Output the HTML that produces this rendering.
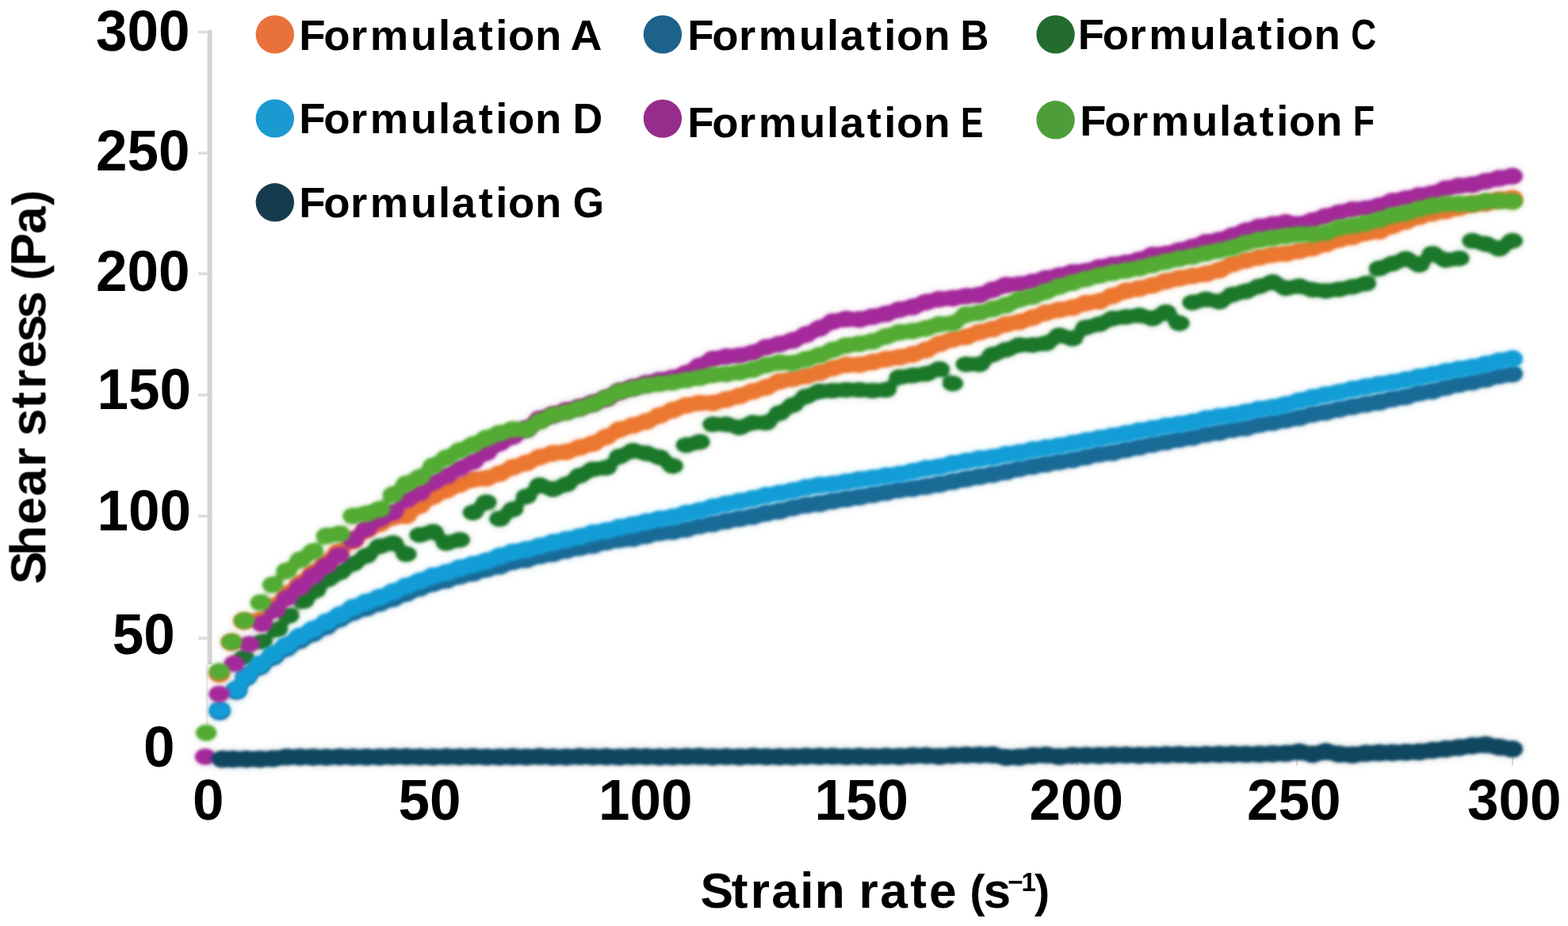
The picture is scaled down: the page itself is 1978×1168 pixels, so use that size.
<!DOCTYPE html>
<html lang="en">
<head>
<meta charset="utf-8">
<title>Shear stress vs strain rate</title>
<style>
html,body{margin:0;padding:0;background:#fff;}
body{width:1978px;height:1168px;overflow:hidden;}
svg{display:block;}
text{font-family:'Liberation Sans','DejaVu Sans',sans-serif;font-weight:700;fill:#000;}
.tick{font-size:72px;}
.leg{font-size:54.5px;}
.ttl{font-size:62.3px;}
</style>
</head>
<body>
<svg width="1978" height="1168" viewBox="0 0 1978 1168">
<rect width="1978" height="1168" fill="#ffffff"/>
<defs>
<filter id="soft" filterUnits="userSpaceOnUse" x="0" y="0" width="1978" height="1168" color-interpolation-filters="sRGB"><feGaussianBlur in="SourceGraphic" stdDeviation="5.0" result="h1"/><feColorMatrix in="h1" type="matrix" values="1 0 0 0 0  0 1 0 0 0  0 0 1 0 0  0 0 0 0.22 0" result="halo"/><feGaussianBlur in="SourceGraphic" stdDeviation="3.0" result="b1"/><feColorMatrix in="b1" type="matrix" values="1 0 0 0 0  0 1 0 0 0  0 0 1 0 0  0 0 0 2.6 -0.8" result="b2"/><feGaussianBlur in="b2" stdDeviation="1.7" result="core"/><feMerge><feMergeNode in="halo"/><feMergeNode in="core"/></feMerge></filter>
<filter id="soft3" filterUnits="userSpaceOnUse" x="0" y="0" width="1978" height="1168" color-interpolation-filters="sRGB"><feGaussianBlur stdDeviation="0.55"/></filter>
<filter id="soft2" filterUnits="userSpaceOnUse" x="0" y="0" width="1978" height="1168" color-interpolation-filters="sRGB"><feGaussianBlur stdDeviation="0.7"/></filter>
</defs>

<g fill="#d3d3d3" filter="url(#soft2)">
<rect x="261.6" y="38" width="6" height="800"/>
<rect x="260" y="838" width="2.5" height="76" fill="#ebebeb"/>
<rect x="250" y="38.6" width="13" height="3.6" fill="#dcdcdc"/>
<rect x="250" y="191.3" width="13" height="3.6" fill="#dcdcdc"/>
<rect x="250" y="343.4" width="13" height="3.6" fill="#dcdcdc"/>
<rect x="250" y="496.5" width="13" height="3.6" fill="#dcdcdc"/>
<rect x="250" y="649.2" width="13" height="3.6" fill="#dcdcdc"/>
<rect x="250" y="803.3" width="13" height="3.6" fill="#dcdcdc"/>
</g>
<rect x="1083" y="956" width="2" height="10" fill="#dcdce0" filter="url(#soft2)"/>
<rect x="1358" y="956" width="2" height="10" fill="#dcdce0" filter="url(#soft2)"/>
<rect x="1635" y="956" width="2" height="10" fill="#dcdce0" filter="url(#soft2)"/>
<rect x="1907" y="956" width="2" height="10" fill="#dcdce0" filter="url(#soft2)"/>
<g id="curves">
<g fill="#EC7730" filter="url(#soft)">
<ellipse cx="276.7" cy="850.5" rx="13.6" ry="10.6"/>
<ellipse cx="292.1" cy="810.0" rx="13.6" ry="10.6"/>
<ellipse cx="308.0" cy="783.3" rx="13.6" ry="10.6"/>
<ellipse cx="330.0" cy="781.0" rx="13.6" ry="10.6"/>
<ellipse cx="346.5" cy="764.0" rx="13.6" ry="10.6"/>
<ellipse cx="362.3" cy="748.5" rx="13.6" ry="10.6"/>
<ellipse cx="378.8" cy="735.0" rx="13.6" ry="10.6"/>
<ellipse cx="395.0" cy="721.5" rx="13.6" ry="10.6"/>
<ellipse cx="411.1" cy="708.5" rx="13.6" ry="10.6"/>
<ellipse cx="427.3" cy="695.5" rx="13.6" ry="10.6"/>
<ellipse cx="445.4" cy="682.0" rx="13.6" ry="10.6"/>
<ellipse cx="462.2" cy="668.4" rx="13.6" ry="10.6"/>
<ellipse cx="479.0" cy="660.7" rx="13.6" ry="10.6"/>
<ellipse cx="495.8" cy="652.6" rx="13.6" ry="10.6"/>
<ellipse cx="512.6" cy="650.6" rx="13.6" ry="10.6"/>
<ellipse cx="529.5" cy="637.8" rx="13.6" ry="10.6"/>
<ellipse cx="546.3" cy="626.2" rx="13.6" ry="10.6"/>
<ellipse cx="563.1" cy="618.4" rx="13.6" ry="10.6"/>
<ellipse cx="579.9" cy="611.1" rx="13.6" ry="10.6"/>
<ellipse cx="596.7" cy="604.7" rx="13.6" ry="10.6"/>
<ellipse cx="613.5" cy="603.3" rx="13.6" ry="10.6"/>
<ellipse cx="630.3" cy="597.3" rx="13.6" ry="10.6"/>
<ellipse cx="647.1" cy="589.3" rx="13.6" ry="10.6"/>
<ellipse cx="663.9" cy="583.9" rx="13.6" ry="10.6"/>
<ellipse cx="680.8" cy="576.6" rx="13.6" ry="10.6"/>
<ellipse cx="697.6" cy="571.7" rx="13.6" ry="10.6"/>
<ellipse cx="714.4" cy="570.1" rx="13.6" ry="10.6"/>
<ellipse cx="731.2" cy="564.4" rx="13.6" ry="10.6"/>
<ellipse cx="748.0" cy="559.5" rx="13.6" ry="10.6"/>
<ellipse cx="764.8" cy="551.0" rx="13.6" ry="10.6"/>
<ellipse cx="781.6" cy="541.8" rx="13.6" ry="10.6"/>
<ellipse cx="798.4" cy="536.7" rx="13.6" ry="10.6"/>
<ellipse cx="815.2" cy="531.7" rx="13.6" ry="10.6"/>
<ellipse cx="832.0" cy="524.0" rx="13.6" ry="10.6"/>
<ellipse cx="848.8" cy="517.2" rx="13.6" ry="10.6"/>
<ellipse cx="865.7" cy="511.3" rx="13.6" ry="10.6"/>
<ellipse cx="882.5" cy="508.3" rx="13.6" ry="10.6"/>
<ellipse cx="899.3" cy="508.3" rx="13.6" ry="10.6"/>
<ellipse cx="916.1" cy="503.9" rx="13.6" ry="10.6"/>
<ellipse cx="932.9" cy="499.4" rx="13.6" ry="10.6"/>
<ellipse cx="949.7" cy="493.5" rx="13.6" ry="10.6"/>
<ellipse cx="966.5" cy="488.6" rx="13.6" ry="10.6"/>
<ellipse cx="983.3" cy="481.0" rx="13.6" ry="10.6"/>
<ellipse cx="1000.1" cy="477.8" rx="13.6" ry="10.6"/>
<ellipse cx="1016.9" cy="474.2" rx="13.6" ry="10.6"/>
<ellipse cx="1033.8" cy="469.9" rx="13.6" ry="10.6"/>
<ellipse cx="1050.6" cy="464.3" rx="13.6" ry="10.6"/>
<ellipse cx="1067.4" cy="460.2" rx="13.6" ry="10.6"/>
<ellipse cx="1084.2" cy="460.0" rx="13.6" ry="10.6"/>
<ellipse cx="1101.0" cy="456.7" rx="13.6" ry="10.6"/>
<ellipse cx="1117.8" cy="452.9" rx="13.6" ry="10.6"/>
<ellipse cx="1134.6" cy="450.5" rx="13.6" ry="10.6"/>
<ellipse cx="1151.4" cy="446.9" rx="13.6" ry="10.6"/>
<ellipse cx="1168.2" cy="441.4" rx="13.6" ry="10.6"/>
<ellipse cx="1185.0" cy="433.7" rx="13.6" ry="10.6"/>
<ellipse cx="1201.9" cy="428.1" rx="13.6" ry="10.6"/>
<ellipse cx="1218.7" cy="424.8" rx="13.6" ry="10.6"/>
<ellipse cx="1235.5" cy="418.9" rx="13.6" ry="10.6"/>
<ellipse cx="1252.3" cy="415.0" rx="13.6" ry="10.6"/>
<ellipse cx="1269.1" cy="409.0" rx="13.6" ry="10.6"/>
<ellipse cx="1285.9" cy="406.1" rx="13.6" ry="10.6"/>
<ellipse cx="1302.7" cy="400.6" rx="13.6" ry="10.6"/>
<ellipse cx="1319.5" cy="394.4" rx="13.6" ry="10.6"/>
<ellipse cx="1336.3" cy="390.8" rx="13.6" ry="10.6"/>
<ellipse cx="1353.1" cy="387.9" rx="13.6" ry="10.6"/>
<ellipse cx="1370.0" cy="382.3" rx="13.6" ry="10.6"/>
<ellipse cx="1386.8" cy="380.0" rx="13.6" ry="10.6"/>
<ellipse cx="1403.6" cy="373.1" rx="13.6" ry="10.6"/>
<ellipse cx="1420.4" cy="366.9" rx="13.6" ry="10.6"/>
<ellipse cx="1437.2" cy="363.9" rx="13.6" ry="10.6"/>
<ellipse cx="1454.0" cy="359.8" rx="13.6" ry="10.6"/>
<ellipse cx="1470.8" cy="354.7" rx="13.6" ry="10.6"/>
<ellipse cx="1487.6" cy="350.9" rx="13.6" ry="10.6"/>
<ellipse cx="1504.4" cy="348.0" rx="13.6" ry="10.6"/>
<ellipse cx="1521.2" cy="345.4" rx="13.6" ry="10.6"/>
<ellipse cx="1538.1" cy="340.7" rx="13.6" ry="10.6"/>
<ellipse cx="1554.9" cy="332.9" rx="13.6" ry="10.6"/>
<ellipse cx="1571.7" cy="328.4" rx="13.6" ry="10.6"/>
<ellipse cx="1588.5" cy="324.7" rx="13.6" ry="10.6"/>
<ellipse cx="1605.3" cy="321.2" rx="13.6" ry="10.6"/>
<ellipse cx="1622.1" cy="319.8" rx="13.6" ry="10.6"/>
<ellipse cx="1638.9" cy="316.4" rx="13.6" ry="10.6"/>
<ellipse cx="1655.7" cy="313.1" rx="13.6" ry="10.6"/>
<ellipse cx="1672.5" cy="307.8" rx="13.6" ry="10.6"/>
<ellipse cx="1689.3" cy="302.1" rx="13.6" ry="10.6"/>
<ellipse cx="1706.2" cy="298.7" rx="13.6" ry="10.6"/>
<ellipse cx="1723.0" cy="293.8" rx="13.6" ry="10.6"/>
<ellipse cx="1739.8" cy="291.8" rx="13.6" ry="10.6"/>
<ellipse cx="1756.6" cy="284.8" rx="13.6" ry="10.6"/>
<ellipse cx="1773.4" cy="279.3" rx="13.6" ry="10.6"/>
<ellipse cx="1790.2" cy="273.4" rx="13.6" ry="10.6"/>
<ellipse cx="1807.0" cy="269.0" rx="13.6" ry="10.6"/>
<ellipse cx="1823.8" cy="266.1" rx="13.6" ry="10.6"/>
<ellipse cx="1840.6" cy="262.0" rx="13.6" ry="10.6"/>
<ellipse cx="1857.4" cy="257.7" rx="13.6" ry="10.6"/>
<ellipse cx="1874.3" cy="256.3" rx="13.6" ry="10.6"/>
<ellipse cx="1891.1" cy="252.0" rx="13.6" ry="10.6"/>
<ellipse cx="1907.9" cy="250.2" rx="13.6" ry="10.6"/>
</g>
<g fill="#1A6A96" filter="url(#soft)">
<ellipse cx="277.2" cy="897.2" rx="13.6" ry="11.0"/>
<ellipse cx="298.3" cy="871.5" rx="13.6" ry="11.0"/>
<ellipse cx="310.9" cy="853.9" rx="13.6" ry="11.0"/>
<ellipse cx="327.7" cy="840.8" rx="13.6" ry="11.0"/>
<ellipse cx="344.6" cy="828.5" rx="13.6" ry="11.0"/>
<ellipse cx="361.4" cy="817.5" rx="13.6" ry="11.0"/>
<ellipse cx="378.2" cy="807.6" rx="13.6" ry="11.0"/>
<ellipse cx="395.0" cy="799.0" rx="13.6" ry="11.0"/>
<ellipse cx="411.8" cy="790.1" rx="13.6" ry="11.0"/>
<ellipse cx="428.6" cy="780.4" rx="13.6" ry="11.0"/>
<ellipse cx="445.4" cy="772.3" rx="13.6" ry="11.0"/>
<ellipse cx="462.2" cy="766.8" rx="13.6" ry="11.0"/>
<ellipse cx="479.0" cy="760.6" rx="13.6" ry="11.0"/>
<ellipse cx="495.8" cy="755.0" rx="13.6" ry="11.0"/>
<ellipse cx="512.6" cy="748.3" rx="13.6" ry="11.0"/>
<ellipse cx="529.5" cy="741.6" rx="13.6" ry="11.0"/>
<ellipse cx="546.3" cy="735.8" rx="13.6" ry="11.0"/>
<ellipse cx="563.1" cy="731.6" rx="13.6" ry="11.0"/>
<ellipse cx="579.9" cy="726.5" rx="13.6" ry="11.0"/>
<ellipse cx="596.7" cy="722.7" rx="13.6" ry="11.0"/>
<ellipse cx="613.5" cy="717.6" rx="13.6" ry="11.0"/>
<ellipse cx="630.3" cy="714.0" rx="13.6" ry="11.0"/>
<ellipse cx="647.1" cy="708.2" rx="13.6" ry="11.0"/>
<ellipse cx="663.9" cy="705.7" rx="13.6" ry="11.0"/>
<ellipse cx="680.8" cy="700.9" rx="13.6" ry="11.0"/>
<ellipse cx="697.6" cy="698.2" rx="13.6" ry="11.0"/>
<ellipse cx="714.4" cy="694.0" rx="13.6" ry="11.0"/>
<ellipse cx="731.2" cy="690.4" rx="13.6" ry="11.0"/>
<ellipse cx="748.0" cy="687.7" rx="13.6" ry="11.0"/>
<ellipse cx="764.8" cy="683.4" rx="13.6" ry="11.0"/>
<ellipse cx="781.6" cy="680.5" rx="13.6" ry="11.0"/>
<ellipse cx="798.4" cy="679.0" rx="13.6" ry="11.0"/>
<ellipse cx="815.2" cy="675.4" rx="13.6" ry="11.0"/>
<ellipse cx="832.0" cy="671.7" rx="13.6" ry="11.0"/>
<ellipse cx="848.8" cy="670.2" rx="13.6" ry="11.0"/>
<ellipse cx="865.7" cy="667.2" rx="13.6" ry="11.0"/>
<ellipse cx="882.5" cy="662.9" rx="13.6" ry="11.0"/>
<ellipse cx="899.3" cy="660.4" rx="13.6" ry="11.0"/>
<ellipse cx="916.1" cy="657.0" rx="13.6" ry="11.0"/>
<ellipse cx="932.9" cy="654.0" rx="13.6" ry="11.0"/>
<ellipse cx="949.7" cy="651.2" rx="13.6" ry="11.0"/>
<ellipse cx="966.5" cy="647.1" rx="13.6" ry="11.0"/>
<ellipse cx="983.3" cy="644.5" rx="13.6" ry="11.0"/>
<ellipse cx="1000.1" cy="640.2" rx="13.6" ry="11.0"/>
<ellipse cx="1016.9" cy="637.0" rx="13.6" ry="11.0"/>
<ellipse cx="1033.8" cy="635.1" rx="13.6" ry="11.0"/>
<ellipse cx="1050.6" cy="631.8" rx="13.6" ry="11.0"/>
<ellipse cx="1067.4" cy="629.1" rx="13.6" ry="11.0"/>
<ellipse cx="1084.2" cy="626.7" rx="13.6" ry="11.0"/>
<ellipse cx="1101.0" cy="623.8" rx="13.6" ry="11.0"/>
<ellipse cx="1117.8" cy="620.9" rx="13.6" ry="11.0"/>
<ellipse cx="1134.6" cy="617.6" rx="13.6" ry="11.0"/>
<ellipse cx="1151.4" cy="615.9" rx="13.6" ry="11.0"/>
<ellipse cx="1168.2" cy="613.4" rx="13.6" ry="11.0"/>
<ellipse cx="1185.0" cy="610.6" rx="13.6" ry="11.0"/>
<ellipse cx="1201.9" cy="607.3" rx="13.6" ry="11.0"/>
<ellipse cx="1218.7" cy="604.0" rx="13.6" ry="11.0"/>
<ellipse cx="1235.5" cy="600.9" rx="13.6" ry="11.0"/>
<ellipse cx="1252.3" cy="598.2" rx="13.6" ry="11.0"/>
<ellipse cx="1269.1" cy="595.0" rx="13.6" ry="11.0"/>
<ellipse cx="1285.9" cy="590.9" rx="13.6" ry="11.0"/>
<ellipse cx="1302.7" cy="588.0" rx="13.6" ry="11.0"/>
<ellipse cx="1319.5" cy="585.1" rx="13.6" ry="11.0"/>
<ellipse cx="1336.3" cy="582.3" rx="13.6" ry="11.0"/>
<ellipse cx="1353.1" cy="579.8" rx="13.6" ry="11.0"/>
<ellipse cx="1370.0" cy="576.3" rx="13.6" ry="11.0"/>
<ellipse cx="1386.8" cy="572.5" rx="13.6" ry="11.0"/>
<ellipse cx="1403.6" cy="570.7" rx="13.6" ry="11.0"/>
<ellipse cx="1420.4" cy="566.9" rx="13.6" ry="11.0"/>
<ellipse cx="1437.2" cy="563.8" rx="13.6" ry="11.0"/>
<ellipse cx="1454.0" cy="560.2" rx="13.6" ry="11.0"/>
<ellipse cx="1470.8" cy="557.3" rx="13.6" ry="11.0"/>
<ellipse cx="1487.6" cy="554.0" rx="13.6" ry="11.0"/>
<ellipse cx="1504.4" cy="551.5" rx="13.6" ry="11.0"/>
<ellipse cx="1521.2" cy="547.4" rx="13.6" ry="11.0"/>
<ellipse cx="1538.1" cy="545.1" rx="13.6" ry="11.0"/>
<ellipse cx="1554.9" cy="541.5" rx="13.6" ry="11.0"/>
<ellipse cx="1571.7" cy="539.4" rx="13.6" ry="11.0"/>
<ellipse cx="1588.5" cy="535.3" rx="13.6" ry="11.0"/>
<ellipse cx="1605.3" cy="532.6" rx="13.6" ry="11.0"/>
<ellipse cx="1622.1" cy="529.4" rx="13.6" ry="11.0"/>
<ellipse cx="1638.9" cy="526.6" rx="13.6" ry="11.0"/>
<ellipse cx="1655.7" cy="522.3" rx="13.6" ry="11.0"/>
<ellipse cx="1672.5" cy="519.7" rx="13.6" ry="11.0"/>
<ellipse cx="1689.3" cy="516.0" rx="13.6" ry="11.0"/>
<ellipse cx="1706.2" cy="512.7" rx="13.6" ry="11.0"/>
<ellipse cx="1723.0" cy="509.7" rx="13.6" ry="11.0"/>
<ellipse cx="1739.8" cy="507.1" rx="13.6" ry="11.0"/>
<ellipse cx="1756.6" cy="503.0" rx="13.6" ry="11.0"/>
<ellipse cx="1773.4" cy="500.3" rx="13.6" ry="11.0"/>
<ellipse cx="1790.2" cy="495.5" rx="13.6" ry="11.0"/>
<ellipse cx="1807.0" cy="493.0" rx="13.6" ry="11.0"/>
<ellipse cx="1823.8" cy="488.4" rx="13.6" ry="11.0"/>
<ellipse cx="1840.6" cy="484.4" rx="13.6" ry="11.0"/>
<ellipse cx="1857.4" cy="481.6" rx="13.6" ry="11.0"/>
<ellipse cx="1874.3" cy="478.1" rx="13.6" ry="11.0"/>
<ellipse cx="1891.1" cy="473.7" rx="13.6" ry="11.0"/>
<ellipse cx="1907.9" cy="471.6" rx="13.6" ry="11.0"/>
</g>
<g fill="#1B772A" filter="url(#soft)">
<ellipse cx="308.1" cy="829.0" rx="13.6" ry="10.0"/>
<ellipse cx="330.6" cy="809.5" rx="13.6" ry="10.0"/>
<ellipse cx="350.1" cy="794.1" rx="13.6" ry="10.0"/>
<ellipse cx="364.5" cy="776.6" rx="13.6" ry="10.0"/>
<ellipse cx="383.0" cy="758.2" rx="13.6" ry="10.0"/>
<ellipse cx="398.0" cy="745.0" rx="13.6" ry="10.0"/>
<ellipse cx="413.9" cy="730.4" rx="13.6" ry="10.0"/>
<ellipse cx="429.0" cy="722.0" rx="13.6" ry="10.0"/>
<ellipse cx="445.4" cy="711.2" rx="13.6" ry="10.0"/>
<ellipse cx="462.2" cy="701.1" rx="13.6" ry="10.0"/>
<ellipse cx="479.0" cy="689.0" rx="13.6" ry="10.0"/>
<ellipse cx="495.8" cy="684.9" rx="13.6" ry="10.0"/>
<ellipse cx="512.6" cy="699.1" rx="13.6" ry="10.0"/>
<ellipse cx="529.5" cy="674.8" rx="13.6" ry="10.0"/>
<ellipse cx="546.3" cy="670.8" rx="13.6" ry="10.0"/>
<ellipse cx="563.1" cy="684.9" rx="13.6" ry="10.0"/>
<ellipse cx="579.9" cy="680.9" rx="13.6" ry="10.0"/>
<ellipse cx="596.7" cy="646.5" rx="13.6" ry="10.0"/>
<ellipse cx="613.5" cy="633.4" rx="13.6" ry="10.0"/>
<ellipse cx="630.3" cy="654.6" rx="13.6" ry="10.0"/>
<ellipse cx="647.1" cy="642.5" rx="13.6" ry="10.0"/>
<ellipse cx="663.9" cy="626.3" rx="13.6" ry="10.0"/>
<ellipse cx="680.8" cy="612.1" rx="13.6" ry="10.0"/>
<ellipse cx="697.6" cy="617.2" rx="13.6" ry="10.0"/>
<ellipse cx="714.4" cy="611.1" rx="13.6" ry="10.0"/>
<ellipse cx="731.2" cy="600.0" rx="13.6" ry="10.0"/>
<ellipse cx="748.0" cy="591.9" rx="13.6" ry="10.0"/>
<ellipse cx="764.8" cy="589.9" rx="13.6" ry="10.0"/>
<ellipse cx="781.6" cy="575.7" rx="13.6" ry="10.0"/>
<ellipse cx="798.4" cy="568.6" rx="13.6" ry="10.0"/>
<ellipse cx="815.2" cy="571.7" rx="13.6" ry="10.0"/>
<ellipse cx="832.0" cy="576.7" rx="13.6" ry="10.0"/>
<ellipse cx="848.8" cy="587.8" rx="13.6" ry="10.0"/>
<ellipse cx="865.7" cy="561.4" rx="13.6" ry="10.0"/>
<ellipse cx="882.5" cy="557.5" rx="13.6" ry="10.0"/>
<ellipse cx="899.3" cy="535.3" rx="13.6" ry="10.0"/>
<ellipse cx="916.1" cy="535.3" rx="13.6" ry="10.0"/>
<ellipse cx="932.9" cy="539.3" rx="13.6" ry="10.0"/>
<ellipse cx="949.7" cy="533.2" rx="13.6" ry="10.0"/>
<ellipse cx="966.5" cy="533.2" rx="13.6" ry="10.0"/>
<ellipse cx="983.3" cy="521.1" rx="13.6" ry="10.0"/>
<ellipse cx="1000.1" cy="511.0" rx="13.6" ry="10.0"/>
<ellipse cx="1016.9" cy="499.9" rx="13.6" ry="10.0"/>
<ellipse cx="1033.8" cy="493.8" rx="13.6" ry="10.0"/>
<ellipse cx="1050.6" cy="492.8" rx="13.6" ry="10.0"/>
<ellipse cx="1067.4" cy="491.8" rx="13.6" ry="10.0"/>
<ellipse cx="1084.2" cy="491.8" rx="13.6" ry="10.0"/>
<ellipse cx="1101.0" cy="492.8" rx="13.6" ry="10.0"/>
<ellipse cx="1117.8" cy="491.8" rx="13.6" ry="10.0"/>
<ellipse cx="1134.6" cy="475.8" rx="13.6" ry="10.0"/>
<ellipse cx="1151.4" cy="473.6" rx="13.6" ry="10.0"/>
<ellipse cx="1168.2" cy="471.6" rx="13.6" ry="10.0"/>
<ellipse cx="1185.0" cy="465.5" rx="13.6" ry="10.0"/>
<ellipse cx="1201.9" cy="483.7" rx="13.6" ry="10.0"/>
<ellipse cx="1218.7" cy="459.4" rx="13.6" ry="10.0"/>
<ellipse cx="1235.5" cy="459.4" rx="13.6" ry="10.0"/>
<ellipse cx="1252.3" cy="447.3" rx="13.6" ry="10.0"/>
<ellipse cx="1269.1" cy="441.2" rx="13.6" ry="10.0"/>
<ellipse cx="1285.9" cy="435.2" rx="13.6" ry="10.0"/>
<ellipse cx="1302.7" cy="435.2" rx="13.6" ry="10.0"/>
<ellipse cx="1319.5" cy="433.1" rx="13.6" ry="10.0"/>
<ellipse cx="1336.3" cy="423.0" rx="13.6" ry="10.0"/>
<ellipse cx="1353.1" cy="427.1" rx="13.6" ry="10.0"/>
<ellipse cx="1370.0" cy="412.9" rx="13.6" ry="10.0"/>
<ellipse cx="1386.8" cy="408.9" rx="13.6" ry="10.0"/>
<ellipse cx="1403.6" cy="401.8" rx="13.6" ry="10.0"/>
<ellipse cx="1420.4" cy="399.8" rx="13.6" ry="10.0"/>
<ellipse cx="1437.2" cy="397.7" rx="13.6" ry="10.0"/>
<ellipse cx="1454.0" cy="401.8" rx="13.6" ry="10.0"/>
<ellipse cx="1470.8" cy="393.7" rx="13.6" ry="10.0"/>
<ellipse cx="1487.6" cy="407.8" rx="13.6" ry="10.0"/>
<ellipse cx="1504.4" cy="381.6" rx="13.6" ry="10.0"/>
<ellipse cx="1521.2" cy="377.5" rx="13.6" ry="10.0"/>
<ellipse cx="1538.1" cy="380.5" rx="13.6" ry="10.0"/>
<ellipse cx="1554.9" cy="371.4" rx="13.6" ry="10.0"/>
<ellipse cx="1571.7" cy="367.4" rx="13.6" ry="10.0"/>
<ellipse cx="1588.5" cy="361.3" rx="13.6" ry="10.0"/>
<ellipse cx="1605.3" cy="355.8" rx="13.6" ry="10.0"/>
<ellipse cx="1622.1" cy="363.4" rx="13.6" ry="10.0"/>
<ellipse cx="1638.9" cy="361.0" rx="13.6" ry="10.0"/>
<ellipse cx="1655.7" cy="365.4" rx="13.6" ry="10.0"/>
<ellipse cx="1672.5" cy="367.0" rx="13.6" ry="10.0"/>
<ellipse cx="1689.3" cy="365.0" rx="13.6" ry="10.0"/>
<ellipse cx="1706.2" cy="361.8" rx="13.6" ry="10.0"/>
<ellipse cx="1723.0" cy="357.8" rx="13.6" ry="10.0"/>
<ellipse cx="1739.8" cy="338.6" rx="13.6" ry="10.0"/>
<ellipse cx="1756.6" cy="332.5" rx="13.6" ry="10.0"/>
<ellipse cx="1773.4" cy="326.5" rx="13.6" ry="10.0"/>
<ellipse cx="1790.2" cy="334.0" rx="13.6" ry="10.0"/>
<ellipse cx="1807.0" cy="319.9" rx="13.6" ry="10.0"/>
<ellipse cx="1823.8" cy="328.0" rx="13.6" ry="10.0"/>
<ellipse cx="1840.6" cy="326.0" rx="13.6" ry="10.0"/>
<ellipse cx="1857.4" cy="303.7" rx="13.6" ry="10.0"/>
<ellipse cx="1874.3" cy="307.7" rx="13.6" ry="10.0"/>
<ellipse cx="1891.1" cy="313.8" rx="13.6" ry="10.0"/>
<ellipse cx="1907.9" cy="303.7" rx="13.6" ry="10.0"/>
</g>
<g fill="#139DD6" filter="url(#soft)">
<ellipse cx="277.2" cy="895.6" rx="13.6" ry="11.0"/>
<ellipse cx="298.3" cy="869.7" rx="13.6" ry="11.0"/>
<ellipse cx="310.9" cy="851.6" rx="13.6" ry="11.0"/>
<ellipse cx="327.7" cy="838.0" rx="13.6" ry="11.0"/>
<ellipse cx="344.6" cy="825.3" rx="13.6" ry="11.0"/>
<ellipse cx="361.4" cy="813.8" rx="13.6" ry="11.0"/>
<ellipse cx="378.2" cy="802.7" rx="13.6" ry="11.0"/>
<ellipse cx="395.0" cy="793.8" rx="13.6" ry="11.0"/>
<ellipse cx="411.8" cy="784.5" rx="13.6" ry="11.0"/>
<ellipse cx="428.6" cy="775.8" rx="13.6" ry="11.0"/>
<ellipse cx="445.4" cy="766.3" rx="13.6" ry="11.0"/>
<ellipse cx="462.2" cy="759.5" rx="13.6" ry="11.0"/>
<ellipse cx="479.0" cy="753.4" rx="13.6" ry="11.0"/>
<ellipse cx="495.8" cy="746.5" rx="13.6" ry="11.0"/>
<ellipse cx="512.6" cy="739.2" rx="13.6" ry="11.0"/>
<ellipse cx="529.5" cy="732.9" rx="13.6" ry="11.0"/>
<ellipse cx="546.3" cy="726.4" rx="13.6" ry="11.0"/>
<ellipse cx="563.1" cy="722.2" rx="13.6" ry="11.0"/>
<ellipse cx="579.9" cy="716.6" rx="13.6" ry="11.0"/>
<ellipse cx="596.7" cy="712.0" rx="13.6" ry="11.0"/>
<ellipse cx="613.5" cy="707.7" rx="13.6" ry="11.0"/>
<ellipse cx="630.3" cy="701.6" rx="13.6" ry="11.0"/>
<ellipse cx="647.1" cy="696.4" rx="13.6" ry="11.0"/>
<ellipse cx="663.9" cy="693.2" rx="13.6" ry="11.0"/>
<ellipse cx="680.8" cy="688.9" rx="13.6" ry="11.0"/>
<ellipse cx="697.6" cy="684.2" rx="13.6" ry="11.0"/>
<ellipse cx="714.4" cy="680.7" rx="13.6" ry="11.0"/>
<ellipse cx="731.2" cy="676.9" rx="13.6" ry="11.0"/>
<ellipse cx="748.0" cy="672.3" rx="13.6" ry="11.0"/>
<ellipse cx="764.8" cy="669.5" rx="13.6" ry="11.0"/>
<ellipse cx="781.6" cy="665.2" rx="13.6" ry="11.0"/>
<ellipse cx="798.4" cy="662.0" rx="13.6" ry="11.0"/>
<ellipse cx="815.2" cy="658.2" rx="13.6" ry="11.0"/>
<ellipse cx="832.0" cy="654.8" rx="13.6" ry="11.0"/>
<ellipse cx="848.8" cy="652.2" rx="13.6" ry="11.0"/>
<ellipse cx="865.7" cy="647.4" rx="13.6" ry="11.0"/>
<ellipse cx="882.5" cy="644.3" rx="13.6" ry="11.0"/>
<ellipse cx="899.3" cy="639.5" rx="13.6" ry="11.0"/>
<ellipse cx="916.1" cy="635.8" rx="13.6" ry="11.0"/>
<ellipse cx="932.9" cy="632.6" rx="13.6" ry="11.0"/>
<ellipse cx="949.7" cy="629.0" rx="13.6" ry="11.0"/>
<ellipse cx="966.5" cy="624.9" rx="13.6" ry="11.0"/>
<ellipse cx="983.3" cy="622.2" rx="13.6" ry="11.0"/>
<ellipse cx="1000.1" cy="618.9" rx="13.6" ry="11.0"/>
<ellipse cx="1016.9" cy="614.9" rx="13.6" ry="11.0"/>
<ellipse cx="1033.8" cy="612.1" rx="13.6" ry="11.0"/>
<ellipse cx="1050.6" cy="610.8" rx="13.6" ry="11.0"/>
<ellipse cx="1067.4" cy="607.9" rx="13.6" ry="11.0"/>
<ellipse cx="1084.2" cy="605.1" rx="13.6" ry="11.0"/>
<ellipse cx="1101.0" cy="603.0" rx="13.6" ry="11.0"/>
<ellipse cx="1117.8" cy="600.3" rx="13.6" ry="11.0"/>
<ellipse cx="1134.6" cy="598.3" rx="13.6" ry="11.0"/>
<ellipse cx="1151.4" cy="594.7" rx="13.6" ry="11.0"/>
<ellipse cx="1168.2" cy="591.0" rx="13.6" ry="11.0"/>
<ellipse cx="1185.0" cy="588.9" rx="13.6" ry="11.0"/>
<ellipse cx="1201.9" cy="584.8" rx="13.6" ry="11.0"/>
<ellipse cx="1218.7" cy="581.9" rx="13.6" ry="11.0"/>
<ellipse cx="1235.5" cy="578.8" rx="13.6" ry="11.0"/>
<ellipse cx="1252.3" cy="577.0" rx="13.6" ry="11.0"/>
<ellipse cx="1269.1" cy="573.3" rx="13.6" ry="11.0"/>
<ellipse cx="1285.9" cy="571.1" rx="13.6" ry="11.0"/>
<ellipse cx="1302.7" cy="567.6" rx="13.6" ry="11.0"/>
<ellipse cx="1319.5" cy="565.1" rx="13.6" ry="11.0"/>
<ellipse cx="1336.3" cy="562.4" rx="13.6" ry="11.0"/>
<ellipse cx="1353.1" cy="559.2" rx="13.6" ry="11.0"/>
<ellipse cx="1370.0" cy="556.0" rx="13.6" ry="11.0"/>
<ellipse cx="1386.8" cy="553.0" rx="13.6" ry="11.0"/>
<ellipse cx="1403.6" cy="549.9" rx="13.6" ry="11.0"/>
<ellipse cx="1420.4" cy="547.1" rx="13.6" ry="11.0"/>
<ellipse cx="1437.2" cy="543.4" rx="13.6" ry="11.0"/>
<ellipse cx="1454.0" cy="540.8" rx="13.6" ry="11.0"/>
<ellipse cx="1470.8" cy="537.5" rx="13.6" ry="11.0"/>
<ellipse cx="1487.6" cy="535.3" rx="13.6" ry="11.0"/>
<ellipse cx="1504.4" cy="532.4" rx="13.6" ry="11.0"/>
<ellipse cx="1521.2" cy="528.2" rx="13.6" ry="11.0"/>
<ellipse cx="1538.1" cy="525.4" rx="13.6" ry="11.0"/>
<ellipse cx="1554.9" cy="523.2" rx="13.6" ry="11.0"/>
<ellipse cx="1571.7" cy="520.1" rx="13.6" ry="11.0"/>
<ellipse cx="1588.5" cy="516.3" rx="13.6" ry="11.0"/>
<ellipse cx="1605.3" cy="514.0" rx="13.6" ry="11.0"/>
<ellipse cx="1622.1" cy="510.4" rx="13.6" ry="11.0"/>
<ellipse cx="1638.9" cy="505.7" rx="13.6" ry="11.0"/>
<ellipse cx="1655.7" cy="501.6" rx="13.6" ry="11.0"/>
<ellipse cx="1672.5" cy="497.9" rx="13.6" ry="11.0"/>
<ellipse cx="1689.3" cy="495.0" rx="13.6" ry="11.0"/>
<ellipse cx="1706.2" cy="491.0" rx="13.6" ry="11.0"/>
<ellipse cx="1723.0" cy="488.1" rx="13.6" ry="11.0"/>
<ellipse cx="1739.8" cy="484.9" rx="13.6" ry="11.0"/>
<ellipse cx="1756.6" cy="482.4" rx="13.6" ry="11.0"/>
<ellipse cx="1773.4" cy="479.2" rx="13.6" ry="11.0"/>
<ellipse cx="1790.2" cy="475.6" rx="13.6" ry="11.0"/>
<ellipse cx="1807.0" cy="472.5" rx="13.6" ry="11.0"/>
<ellipse cx="1823.8" cy="468.7" rx="13.6" ry="11.0"/>
<ellipse cx="1840.6" cy="465.7" rx="13.6" ry="11.0"/>
<ellipse cx="1857.4" cy="463.3" rx="13.6" ry="11.0"/>
<ellipse cx="1874.3" cy="459.5" rx="13.6" ry="11.0"/>
<ellipse cx="1891.1" cy="455.5" rx="13.6" ry="11.0"/>
<ellipse cx="1907.9" cy="452.6" rx="13.6" ry="11.0"/>
</g>
<g fill="#A4299A" filter="url(#soft)">
<ellipse cx="259.0" cy="954.5" rx="13.6" ry="10.6"/>
<ellipse cx="276.4" cy="875.4" rx="13.6" ry="10.6"/>
<ellipse cx="295.3" cy="837.2" rx="13.6" ry="10.6"/>
<ellipse cx="314.2" cy="812.6" rx="13.6" ry="10.6"/>
<ellipse cx="330.6" cy="786.9" rx="13.6" ry="10.6"/>
<ellipse cx="347.0" cy="769.5" rx="13.6" ry="10.6"/>
<ellipse cx="362.5" cy="754.0" rx="13.6" ry="10.6"/>
<ellipse cx="378.8" cy="740.2" rx="13.6" ry="10.6"/>
<ellipse cx="395.0" cy="726.4" rx="13.6" ry="10.6"/>
<ellipse cx="411.1" cy="713.5" rx="13.6" ry="10.6"/>
<ellipse cx="427.3" cy="700.5" rx="13.6" ry="10.6"/>
<ellipse cx="445.4" cy="680.8" rx="13.6" ry="10.6"/>
<ellipse cx="462.2" cy="666.9" rx="13.6" ry="10.6"/>
<ellipse cx="479.0" cy="654.4" rx="13.6" ry="10.6"/>
<ellipse cx="495.8" cy="646.2" rx="13.6" ry="10.6"/>
<ellipse cx="512.6" cy="630.4" rx="13.6" ry="10.6"/>
<ellipse cx="529.5" cy="621.4" rx="13.6" ry="10.6"/>
<ellipse cx="546.3" cy="608.4" rx="13.6" ry="10.6"/>
<ellipse cx="563.1" cy="600.2" rx="13.6" ry="10.6"/>
<ellipse cx="579.9" cy="590.8" rx="13.6" ry="10.6"/>
<ellipse cx="596.7" cy="582.3" rx="13.6" ry="10.6"/>
<ellipse cx="613.5" cy="570.9" rx="13.6" ry="10.6"/>
<ellipse cx="630.3" cy="559.0" rx="13.6" ry="10.6"/>
<ellipse cx="647.1" cy="550.5" rx="13.6" ry="10.6"/>
<ellipse cx="663.9" cy="540.7" rx="13.6" ry="10.6"/>
<ellipse cx="680.8" cy="528.4" rx="13.6" ry="10.6"/>
<ellipse cx="697.6" cy="523.0" rx="13.6" ry="10.6"/>
<ellipse cx="714.4" cy="517.5" rx="13.6" ry="10.6"/>
<ellipse cx="731.2" cy="513.7" rx="13.6" ry="10.6"/>
<ellipse cx="748.0" cy="508.3" rx="13.6" ry="10.6"/>
<ellipse cx="764.8" cy="502.4" rx="13.6" ry="10.6"/>
<ellipse cx="781.6" cy="493.7" rx="13.6" ry="10.6"/>
<ellipse cx="798.4" cy="488.3" rx="13.6" ry="10.6"/>
<ellipse cx="815.2" cy="483.4" rx="13.6" ry="10.6"/>
<ellipse cx="832.0" cy="479.7" rx="13.6" ry="10.6"/>
<ellipse cx="848.8" cy="476.6" rx="13.6" ry="10.6"/>
<ellipse cx="865.7" cy="470.9" rx="13.6" ry="10.6"/>
<ellipse cx="882.5" cy="461.6" rx="13.6" ry="10.6"/>
<ellipse cx="899.3" cy="452.8" rx="13.6" ry="10.6"/>
<ellipse cx="916.1" cy="449.9" rx="13.6" ry="10.6"/>
<ellipse cx="932.9" cy="448.6" rx="13.6" ry="10.6"/>
<ellipse cx="949.7" cy="445.0" rx="13.6" ry="10.6"/>
<ellipse cx="966.5" cy="438.0" rx="13.6" ry="10.6"/>
<ellipse cx="983.3" cy="434.1" rx="13.6" ry="10.6"/>
<ellipse cx="1000.1" cy="429.4" rx="13.6" ry="10.6"/>
<ellipse cx="1016.9" cy="421.9" rx="13.6" ry="10.6"/>
<ellipse cx="1033.8" cy="414.2" rx="13.6" ry="10.6"/>
<ellipse cx="1050.6" cy="405.5" rx="13.6" ry="10.6"/>
<ellipse cx="1067.4" cy="402.4" rx="13.6" ry="10.6"/>
<ellipse cx="1084.2" cy="402.9" rx="13.6" ry="10.6"/>
<ellipse cx="1101.0" cy="399.4" rx="13.6" ry="10.6"/>
<ellipse cx="1117.8" cy="395.9" rx="13.6" ry="10.6"/>
<ellipse cx="1134.6" cy="390.5" rx="13.6" ry="10.6"/>
<ellipse cx="1151.4" cy="387.2" rx="13.6" ry="10.6"/>
<ellipse cx="1168.2" cy="381.1" rx="13.6" ry="10.6"/>
<ellipse cx="1185.0" cy="377.3" rx="13.6" ry="10.6"/>
<ellipse cx="1201.9" cy="376.2" rx="13.6" ry="10.6"/>
<ellipse cx="1218.7" cy="373.6" rx="13.6" ry="10.6"/>
<ellipse cx="1235.5" cy="372.2" rx="13.6" ry="10.6"/>
<ellipse cx="1252.3" cy="365.5" rx="13.6" ry="10.6"/>
<ellipse cx="1269.1" cy="359.6" rx="13.6" ry="10.6"/>
<ellipse cx="1285.9" cy="358.8" rx="13.6" ry="10.6"/>
<ellipse cx="1302.7" cy="355.5" rx="13.6" ry="10.6"/>
<ellipse cx="1319.5" cy="351.0" rx="13.6" ry="10.6"/>
<ellipse cx="1336.3" cy="347.7" rx="13.6" ry="10.6"/>
<ellipse cx="1353.1" cy="343.5" rx="13.6" ry="10.6"/>
<ellipse cx="1370.0" cy="342.1" rx="13.6" ry="10.6"/>
<ellipse cx="1386.8" cy="337.3" rx="13.6" ry="10.6"/>
<ellipse cx="1403.6" cy="334.1" rx="13.6" ry="10.6"/>
<ellipse cx="1420.4" cy="331.5" rx="13.6" ry="10.6"/>
<ellipse cx="1437.2" cy="327.9" rx="13.6" ry="10.6"/>
<ellipse cx="1454.0" cy="321.7" rx="13.6" ry="10.6"/>
<ellipse cx="1470.8" cy="320.3" rx="13.6" ry="10.6"/>
<ellipse cx="1487.6" cy="316.0" rx="13.6" ry="10.6"/>
<ellipse cx="1504.4" cy="311.7" rx="13.6" ry="10.6"/>
<ellipse cx="1521.2" cy="305.7" rx="13.6" ry="10.6"/>
<ellipse cx="1538.1" cy="302.8" rx="13.6" ry="10.6"/>
<ellipse cx="1554.9" cy="297.2" rx="13.6" ry="10.6"/>
<ellipse cx="1571.7" cy="291.1" rx="13.6" ry="10.6"/>
<ellipse cx="1588.5" cy="286.1" rx="13.6" ry="10.6"/>
<ellipse cx="1605.3" cy="283.1" rx="13.6" ry="10.6"/>
<ellipse cx="1622.1" cy="280.7" rx="13.6" ry="10.6"/>
<ellipse cx="1638.9" cy="283.1" rx="13.6" ry="10.6"/>
<ellipse cx="1655.7" cy="278.3" rx="13.6" ry="10.6"/>
<ellipse cx="1672.5" cy="272.8" rx="13.6" ry="10.6"/>
<ellipse cx="1689.3" cy="268.3" rx="13.6" ry="10.6"/>
<ellipse cx="1706.2" cy="264.3" rx="13.6" ry="10.6"/>
<ellipse cx="1723.0" cy="263.2" rx="13.6" ry="10.6"/>
<ellipse cx="1739.8" cy="259.5" rx="13.6" ry="10.6"/>
<ellipse cx="1756.6" cy="253.5" rx="13.6" ry="10.6"/>
<ellipse cx="1773.4" cy="250.5" rx="13.6" ry="10.6"/>
<ellipse cx="1790.2" cy="246.6" rx="13.6" ry="10.6"/>
<ellipse cx="1807.0" cy="244.1" rx="13.6" ry="10.6"/>
<ellipse cx="1823.8" cy="237.9" rx="13.6" ry="10.6"/>
<ellipse cx="1840.6" cy="234.3" rx="13.6" ry="10.6"/>
<ellipse cx="1857.4" cy="232.9" rx="13.6" ry="10.6"/>
<ellipse cx="1874.3" cy="228.6" rx="13.6" ry="10.6"/>
<ellipse cx="1891.1" cy="224.9" rx="13.6" ry="10.6"/>
<ellipse cx="1907.9" cy="222.2" rx="13.6" ry="10.6"/>
</g>
<g fill="#53AB33" filter="url(#soft)">
<ellipse cx="260.2" cy="924.3" rx="13.6" ry="10.6"/>
<ellipse cx="276.7" cy="846.9" rx="13.6" ry="10.6"/>
<ellipse cx="292.1" cy="809.5" rx="13.6" ry="10.6"/>
<ellipse cx="308.0" cy="782.8" rx="13.6" ry="10.6"/>
<ellipse cx="328.6" cy="760.2" rx="13.6" ry="10.6"/>
<ellipse cx="344.0" cy="737.6" rx="13.6" ry="10.6"/>
<ellipse cx="361.4" cy="720.1" rx="13.6" ry="10.6"/>
<ellipse cx="378.8" cy="706.2" rx="13.6" ry="10.6"/>
<ellipse cx="395.0" cy="695.7" rx="13.6" ry="10.6"/>
<ellipse cx="411.8" cy="675.9" rx="13.6" ry="10.6"/>
<ellipse cx="428.6" cy="673.4" rx="13.6" ry="10.6"/>
<ellipse cx="445.4" cy="650.8" rx="13.6" ry="10.6"/>
<ellipse cx="462.2" cy="647.9" rx="13.6" ry="10.6"/>
<ellipse cx="479.0" cy="642.3" rx="13.6" ry="10.6"/>
<ellipse cx="495.8" cy="623.9" rx="13.6" ry="10.6"/>
<ellipse cx="512.6" cy="610.2" rx="13.6" ry="10.6"/>
<ellipse cx="529.5" cy="602.0" rx="13.6" ry="10.6"/>
<ellipse cx="546.3" cy="587.7" rx="13.6" ry="10.6"/>
<ellipse cx="563.1" cy="577.6" rx="13.6" ry="10.6"/>
<ellipse cx="579.9" cy="568.3" rx="13.6" ry="10.6"/>
<ellipse cx="596.7" cy="560.9" rx="13.6" ry="10.6"/>
<ellipse cx="613.5" cy="552.7" rx="13.6" ry="10.6"/>
<ellipse cx="630.3" cy="546.3" rx="13.6" ry="10.6"/>
<ellipse cx="647.1" cy="541.5" rx="13.6" ry="10.6"/>
<ellipse cx="663.9" cy="541.9" rx="13.6" ry="10.6"/>
<ellipse cx="680.8" cy="531.4" rx="13.6" ry="10.6"/>
<ellipse cx="697.6" cy="523.6" rx="13.6" ry="10.6"/>
<ellipse cx="714.4" cy="520.1" rx="13.6" ry="10.6"/>
<ellipse cx="731.2" cy="514.9" rx="13.6" ry="10.6"/>
<ellipse cx="748.0" cy="509.5" rx="13.6" ry="10.6"/>
<ellipse cx="764.8" cy="502.0" rx="13.6" ry="10.6"/>
<ellipse cx="781.6" cy="493.8" rx="13.6" ry="10.6"/>
<ellipse cx="798.4" cy="490.0" rx="13.6" ry="10.6"/>
<ellipse cx="815.2" cy="486.2" rx="13.6" ry="10.6"/>
<ellipse cx="832.0" cy="484.0" rx="13.6" ry="10.6"/>
<ellipse cx="848.8" cy="482.3" rx="13.6" ry="10.6"/>
<ellipse cx="865.7" cy="479.3" rx="13.6" ry="10.6"/>
<ellipse cx="882.5" cy="476.5" rx="13.6" ry="10.6"/>
<ellipse cx="899.3" cy="472.8" rx="13.6" ry="10.6"/>
<ellipse cx="916.1" cy="471.8" rx="13.6" ry="10.6"/>
<ellipse cx="932.9" cy="469.6" rx="13.6" ry="10.6"/>
<ellipse cx="949.7" cy="466.2" rx="13.6" ry="10.6"/>
<ellipse cx="966.5" cy="460.5" rx="13.6" ry="10.6"/>
<ellipse cx="983.3" cy="457.3" rx="13.6" ry="10.6"/>
<ellipse cx="1000.1" cy="458.0" rx="13.6" ry="10.6"/>
<ellipse cx="1016.9" cy="453.2" rx="13.6" ry="10.6"/>
<ellipse cx="1033.8" cy="448.0" rx="13.6" ry="10.6"/>
<ellipse cx="1050.6" cy="441.3" rx="13.6" ry="10.6"/>
<ellipse cx="1067.4" cy="435.8" rx="13.6" ry="10.6"/>
<ellipse cx="1084.2" cy="433.6" rx="13.6" ry="10.6"/>
<ellipse cx="1101.0" cy="430.6" rx="13.6" ry="10.6"/>
<ellipse cx="1117.8" cy="424.3" rx="13.6" ry="10.6"/>
<ellipse cx="1134.6" cy="419.2" rx="13.6" ry="10.6"/>
<ellipse cx="1151.4" cy="417.5" rx="13.6" ry="10.6"/>
<ellipse cx="1168.2" cy="414.2" rx="13.6" ry="10.6"/>
<ellipse cx="1185.0" cy="409.0" rx="13.6" ry="10.6"/>
<ellipse cx="1201.9" cy="407.8" rx="13.6" ry="10.6"/>
<ellipse cx="1218.7" cy="396.9" rx="13.6" ry="10.6"/>
<ellipse cx="1235.5" cy="394.5" rx="13.6" ry="10.6"/>
<ellipse cx="1252.3" cy="389.7" rx="13.6" ry="10.6"/>
<ellipse cx="1269.1" cy="384.9" rx="13.6" ry="10.6"/>
<ellipse cx="1285.9" cy="377.7" rx="13.6" ry="10.6"/>
<ellipse cx="1302.7" cy="373.9" rx="13.6" ry="10.6"/>
<ellipse cx="1319.5" cy="367.8" rx="13.6" ry="10.6"/>
<ellipse cx="1336.3" cy="361.3" rx="13.6" ry="10.6"/>
<ellipse cx="1353.1" cy="356.6" rx="13.6" ry="10.6"/>
<ellipse cx="1370.0" cy="351.8" rx="13.6" ry="10.6"/>
<ellipse cx="1386.8" cy="347.5" rx="13.6" ry="10.6"/>
<ellipse cx="1403.6" cy="344.1" rx="13.6" ry="10.6"/>
<ellipse cx="1420.4" cy="341.2" rx="13.6" ry="10.6"/>
<ellipse cx="1437.2" cy="338.2" rx="13.6" ry="10.6"/>
<ellipse cx="1454.0" cy="334.1" rx="13.6" ry="10.6"/>
<ellipse cx="1470.8" cy="330.1" rx="13.6" ry="10.6"/>
<ellipse cx="1487.6" cy="326.3" rx="13.6" ry="10.6"/>
<ellipse cx="1504.4" cy="323.4" rx="13.6" ry="10.6"/>
<ellipse cx="1521.2" cy="319.6" rx="13.6" ry="10.6"/>
<ellipse cx="1538.1" cy="316.0" rx="13.6" ry="10.6"/>
<ellipse cx="1554.9" cy="312.4" rx="13.6" ry="10.6"/>
<ellipse cx="1571.7" cy="306.6" rx="13.6" ry="10.6"/>
<ellipse cx="1588.5" cy="302.7" rx="13.6" ry="10.6"/>
<ellipse cx="1605.3" cy="300.2" rx="13.6" ry="10.6"/>
<ellipse cx="1622.1" cy="297.7" rx="13.6" ry="10.6"/>
<ellipse cx="1638.9" cy="295.7" rx="13.6" ry="10.6"/>
<ellipse cx="1655.7" cy="295.7" rx="13.6" ry="10.6"/>
<ellipse cx="1672.5" cy="293.3" rx="13.6" ry="10.6"/>
<ellipse cx="1689.3" cy="287.0" rx="13.6" ry="10.6"/>
<ellipse cx="1706.2" cy="284.4" rx="13.6" ry="10.6"/>
<ellipse cx="1723.0" cy="281.3" rx="13.6" ry="10.6"/>
<ellipse cx="1739.8" cy="277.1" rx="13.6" ry="10.6"/>
<ellipse cx="1756.6" cy="271.5" rx="13.6" ry="10.6"/>
<ellipse cx="1773.4" cy="268.5" rx="13.6" ry="10.6"/>
<ellipse cx="1790.2" cy="263.5" rx="13.6" ry="10.6"/>
<ellipse cx="1807.0" cy="259.4" rx="13.6" ry="10.6"/>
<ellipse cx="1823.8" cy="257.1" rx="13.6" ry="10.6"/>
<ellipse cx="1840.6" cy="257.0" rx="13.6" ry="10.6"/>
<ellipse cx="1857.4" cy="257.0" rx="13.6" ry="10.6"/>
<ellipse cx="1874.3" cy="253.9" rx="13.6" ry="10.6"/>
<ellipse cx="1891.1" cy="253.6" rx="13.6" ry="10.6"/>
<ellipse cx="1907.9" cy="254.2" rx="13.6" ry="10.6"/>
</g>
<g fill="#0F4660" filter="url(#soft)">
<ellipse cx="280.0" cy="957.5" rx="13.6" ry="10.9"/>
<ellipse cx="294.1" cy="957.5" rx="13.6" ry="10.9"/>
<ellipse cx="310.9" cy="957.5" rx="13.6" ry="10.9"/>
<ellipse cx="327.7" cy="957.5" rx="13.6" ry="10.9"/>
<ellipse cx="344.6" cy="956.8" rx="13.6" ry="10.9"/>
<ellipse cx="361.4" cy="954.8" rx="13.6" ry="10.9"/>
<ellipse cx="378.2" cy="954.8" rx="13.6" ry="10.9"/>
<ellipse cx="395.0" cy="955.0" rx="13.6" ry="10.9"/>
<ellipse cx="411.8" cy="955.1" rx="13.6" ry="10.9"/>
<ellipse cx="428.6" cy="954.6" rx="13.6" ry="10.9"/>
<ellipse cx="445.4" cy="954.9" rx="13.6" ry="10.9"/>
<ellipse cx="462.2" cy="954.9" rx="13.6" ry="10.9"/>
<ellipse cx="479.0" cy="954.8" rx="13.6" ry="10.9"/>
<ellipse cx="495.8" cy="954.4" rx="13.6" ry="10.9"/>
<ellipse cx="512.6" cy="954.3" rx="13.6" ry="10.9"/>
<ellipse cx="529.5" cy="954.6" rx="13.6" ry="10.9"/>
<ellipse cx="546.3" cy="954.8" rx="13.6" ry="10.9"/>
<ellipse cx="563.1" cy="954.4" rx="13.6" ry="10.9"/>
<ellipse cx="579.9" cy="954.6" rx="13.6" ry="10.9"/>
<ellipse cx="596.7" cy="954.4" rx="13.6" ry="10.9"/>
<ellipse cx="613.5" cy="954.9" rx="13.6" ry="10.9"/>
<ellipse cx="630.3" cy="954.9" rx="13.6" ry="10.9"/>
<ellipse cx="647.1" cy="954.5" rx="13.6" ry="10.9"/>
<ellipse cx="663.9" cy="954.9" rx="13.6" ry="10.9"/>
<ellipse cx="680.8" cy="954.2" rx="13.6" ry="10.9"/>
<ellipse cx="697.6" cy="954.8" rx="13.6" ry="10.9"/>
<ellipse cx="714.4" cy="954.8" rx="13.6" ry="10.9"/>
<ellipse cx="731.2" cy="954.2" rx="13.6" ry="10.9"/>
<ellipse cx="748.0" cy="954.6" rx="13.6" ry="10.9"/>
<ellipse cx="764.8" cy="954.5" rx="13.6" ry="10.9"/>
<ellipse cx="781.6" cy="954.8" rx="13.6" ry="10.9"/>
<ellipse cx="798.4" cy="954.2" rx="13.6" ry="10.9"/>
<ellipse cx="815.2" cy="954.4" rx="13.6" ry="10.9"/>
<ellipse cx="832.0" cy="954.7" rx="13.6" ry="10.9"/>
<ellipse cx="848.8" cy="954.5" rx="13.6" ry="10.9"/>
<ellipse cx="865.7" cy="954.2" rx="13.6" ry="10.9"/>
<ellipse cx="882.5" cy="954.0" rx="13.6" ry="10.9"/>
<ellipse cx="899.3" cy="954.7" rx="13.6" ry="10.9"/>
<ellipse cx="916.1" cy="954.3" rx="13.6" ry="10.9"/>
<ellipse cx="932.9" cy="954.7" rx="13.6" ry="10.9"/>
<ellipse cx="949.7" cy="954.0" rx="13.6" ry="10.9"/>
<ellipse cx="966.5" cy="954.5" rx="13.6" ry="10.9"/>
<ellipse cx="983.3" cy="954.5" rx="13.6" ry="10.9"/>
<ellipse cx="1000.1" cy="954.5" rx="13.6" ry="10.9"/>
<ellipse cx="1016.9" cy="953.8" rx="13.6" ry="10.9"/>
<ellipse cx="1033.8" cy="954.0" rx="13.6" ry="10.9"/>
<ellipse cx="1050.6" cy="953.8" rx="13.6" ry="10.9"/>
<ellipse cx="1067.4" cy="954.3" rx="13.6" ry="10.9"/>
<ellipse cx="1084.2" cy="954.0" rx="13.6" ry="10.9"/>
<ellipse cx="1101.0" cy="954.4" rx="13.6" ry="10.9"/>
<ellipse cx="1117.8" cy="953.9" rx="13.6" ry="10.9"/>
<ellipse cx="1134.6" cy="954.2" rx="13.6" ry="10.9"/>
<ellipse cx="1151.4" cy="953.1" rx="13.6" ry="10.9"/>
<ellipse cx="1168.2" cy="953.1" rx="13.6" ry="10.9"/>
<ellipse cx="1185.0" cy="954.1" rx="13.6" ry="10.9"/>
<ellipse cx="1201.9" cy="952.8" rx="13.6" ry="10.9"/>
<ellipse cx="1218.7" cy="952.4" rx="13.6" ry="10.9"/>
<ellipse cx="1235.5" cy="952.3" rx="13.6" ry="10.9"/>
<ellipse cx="1252.3" cy="952.2" rx="13.6" ry="10.9"/>
<ellipse cx="1269.1" cy="955.3" rx="13.6" ry="10.9"/>
<ellipse cx="1285.9" cy="955.0" rx="13.6" ry="10.9"/>
<ellipse cx="1302.7" cy="953.1" rx="13.6" ry="10.9"/>
<ellipse cx="1319.5" cy="952.4" rx="13.6" ry="10.9"/>
<ellipse cx="1336.3" cy="954.4" rx="13.6" ry="10.9"/>
<ellipse cx="1353.1" cy="952.9" rx="13.6" ry="10.9"/>
<ellipse cx="1370.0" cy="952.9" rx="13.6" ry="10.9"/>
<ellipse cx="1386.8" cy="953.0" rx="13.6" ry="10.9"/>
<ellipse cx="1403.6" cy="952.5" rx="13.6" ry="10.9"/>
<ellipse cx="1420.4" cy="952.4" rx="13.6" ry="10.9"/>
<ellipse cx="1437.2" cy="952.7" rx="13.6" ry="10.9"/>
<ellipse cx="1454.0" cy="952.4" rx="13.6" ry="10.9"/>
<ellipse cx="1470.8" cy="952.0" rx="13.6" ry="10.9"/>
<ellipse cx="1487.6" cy="951.7" rx="13.6" ry="10.9"/>
<ellipse cx="1504.4" cy="952.2" rx="13.6" ry="10.9"/>
<ellipse cx="1521.2" cy="951.6" rx="13.6" ry="10.9"/>
<ellipse cx="1538.1" cy="951.5" rx="13.6" ry="10.9"/>
<ellipse cx="1554.9" cy="951.2" rx="13.6" ry="10.9"/>
<ellipse cx="1571.7" cy="951.3" rx="13.6" ry="10.9"/>
<ellipse cx="1588.5" cy="951.2" rx="13.6" ry="10.9"/>
<ellipse cx="1605.3" cy="950.7" rx="13.6" ry="10.9"/>
<ellipse cx="1622.1" cy="950.3" rx="13.6" ry="10.9"/>
<ellipse cx="1638.9" cy="948.4" rx="13.6" ry="10.9"/>
<ellipse cx="1655.7" cy="951.5" rx="13.6" ry="10.9"/>
<ellipse cx="1672.5" cy="948.0" rx="13.6" ry="10.9"/>
<ellipse cx="1689.3" cy="951.2" rx="13.6" ry="10.9"/>
<ellipse cx="1706.2" cy="952.2" rx="13.6" ry="10.9"/>
<ellipse cx="1723.0" cy="950.2" rx="13.6" ry="10.9"/>
<ellipse cx="1739.8" cy="949.5" rx="13.6" ry="10.9"/>
<ellipse cx="1756.6" cy="949.4" rx="13.6" ry="10.9"/>
<ellipse cx="1773.4" cy="948.8" rx="13.6" ry="10.9"/>
<ellipse cx="1790.2" cy="948.3" rx="13.6" ry="10.9"/>
<ellipse cx="1807.0" cy="946.4" rx="13.6" ry="10.9"/>
<ellipse cx="1823.8" cy="944.7" rx="13.6" ry="10.9"/>
<ellipse cx="1840.6" cy="942.9" rx="13.6" ry="10.9"/>
<ellipse cx="1857.4" cy="940.6" rx="13.6" ry="10.9"/>
<ellipse cx="1874.3" cy="939.4" rx="13.6" ry="10.9"/>
<ellipse cx="1891.1" cy="942.3" rx="13.6" ry="10.9"/>
<ellipse cx="1907.9" cy="944.8" rx="13.6" ry="10.9"/>
</g>
</g>
<g id="labels" filter="url(#soft3)">
<text class="tick" x="120.9" y="63.5" textLength="118.5" lengthAdjust="spacingAndGlyphs">300</text>
<text class="tick" x="120.9" y="214.5" textLength="118.5" lengthAdjust="spacingAndGlyphs">250</text>
<text class="tick" x="120.9" y="366.6" textLength="118.5" lengthAdjust="spacingAndGlyphs">200</text>
<text class="tick" x="122.6" y="516.1" textLength="118.5" lengthAdjust="spacingAndGlyphs">150</text>
<text class="tick" x="122.6" y="669.4" textLength="118.5" lengthAdjust="spacingAndGlyphs">100</text>
<text class="tick" x="141.7" y="824.5" textLength="79.0" lengthAdjust="spacingAndGlyphs">50</text>
<text class="tick" x="180.9" y="966.5" textLength="39.5" lengthAdjust="spacingAndGlyphs">0</text>
<text class="tick" x="243.1" y="1034.3" textLength="39.5" lengthAdjust="spacingAndGlyphs">0</text>
<text class="tick" x="502.6" y="1034.3" textLength="79.0" lengthAdjust="spacingAndGlyphs">50</text>
<text class="tick" x="755.1" y="1034.3" textLength="118.5" lengthAdjust="spacingAndGlyphs">100</text>
<text class="tick" x="1027.6" y="1034.3" textLength="118.5" lengthAdjust="spacingAndGlyphs">150</text>
<text class="tick" x="1298.5" y="1034.3" textLength="118.5" lengthAdjust="spacingAndGlyphs">200</text>
<text class="tick" x="1572.9" y="1034.3" textLength="118.5" lengthAdjust="spacingAndGlyphs">250</text>
<text class="tick" x="1851.0" y="1034.3" textLength="118.5" lengthAdjust="spacingAndGlyphs">300</text>
<circle cx="346.8" cy="43.4" r="24.2" fill="#E9723B"/>
<text class="leg" x="377.2 408.2 442.0 466.7 517.9 552.9 569.7 603.7 625.2 641.0 675.1 708.8" y="62.7">Formulation <tspan x="719.4" textLength="40.0" lengthAdjust="spacingAndGlyphs">A</tspan></text>
<circle cx="835.9" cy="43.4" r="24.2" fill="#1C628A"/>
<text class="leg" x="867.3 898.3 932.1 956.8 1008.0 1043.0 1059.8 1093.8 1115.3 1131.1 1165.2 1198.9" y="63.2">Formulation <tspan x="1211.5" textLength="35.9" lengthAdjust="spacingAndGlyphs">B</tspan></text>
<circle cx="1331.6" cy="43.4" r="24.2" fill="#246B30"/>
<text class="leg" x="1359.7 1390.7 1424.5 1449.2 1500.4 1535.4 1552.2 1586.2 1607.7 1623.5 1657.6 1691.3" y="61.9">Formulation <tspan x="1704.2" textLength="32.0" lengthAdjust="spacingAndGlyphs">C</tspan></text>
<circle cx="346.8" cy="149.4" r="24.2" fill="#1A9AD0"/>
<text class="leg" x="377.2 408.2 442.0 466.7 517.9 552.9 569.7 603.7 625.2 641.0 675.1 708.8" y="168.1">Formulation <tspan x="722.5" textLength="37.7" lengthAdjust="spacingAndGlyphs">D</tspan></text>
<circle cx="835.9" cy="149.6" r="24.2" fill="#962D8C"/>
<text class="leg" x="867.3 898.3 932.1 956.8 1008.0 1043.0 1059.8 1093.8 1115.3 1131.1 1165.2 1198.9" y="173.2">Formulation <tspan x="1212.1" textLength="28.4" lengthAdjust="spacingAndGlyphs">E</tspan></text>
<circle cx="1331.6" cy="151.3" r="24.2" fill="#4D9E3A"/>
<text class="leg" x="1362.2 1393.2 1427.0 1451.7 1502.9 1537.9 1554.7 1588.7 1610.2 1626.0 1660.1 1693.8" y="170.6">Formulation <tspan x="1706.8" textLength="27.3" lengthAdjust="spacingAndGlyphs">F</tspan></text>
<circle cx="346.8" cy="255.3" r="24.2" fill="#173B4E"/>
<text class="leg" x="377.2 408.2 442.0 466.7 517.9 552.9 569.7 603.7 625.2 641.0 675.1 708.8" y="274.3">Formulation <tspan x="722.7" textLength="39.2" lengthAdjust="spacingAndGlyphs">G</tspan></text>
<text class="ttl" transform="translate(57.3 734.6) rotate(-90)" x="-2.2 33.7 72.9 108.7 145.7 170.6 184.6 219.4 244.3 270.5 303.1 332.8 364.2 381.1 399.0 439.4 475.4" y="0" dy="0.00 0.00 0.00 0.00 0.00 0.00 0.00 0.00 0.00 0.00 0.00 0.00 0.00 -1.25 1.25 0.00 -1.25">Shear stress <tspan style="font-size:57.9px">(</tspan>Pa<tspan style="font-size:57.9px">)</tspan></text>
<text class="ttl" x="883.5 922.7 946.8 973.3 1009.3 1027.8 1065.7 1083.6 1110.2 1148.2 1172.0 1206.2 1223.2 1240.6" y="1145.2" dy="0.00 0.00 0.00 0.00 0.00 0.00 0.00 0.00 0.00 0.00 0.00 0.00 -1.25 1.25">Strain rate <tspan style="font-size:57.9px">(</tspan>s<tspan style="font-size:33.2px" x="1271.2 1288.4" dy="-21.5">−1</tspan><tspan style="font-size:57.9px" x="1305.0" dy="20.25">)</tspan></text>
</g>
</svg>
</body>
</html>
